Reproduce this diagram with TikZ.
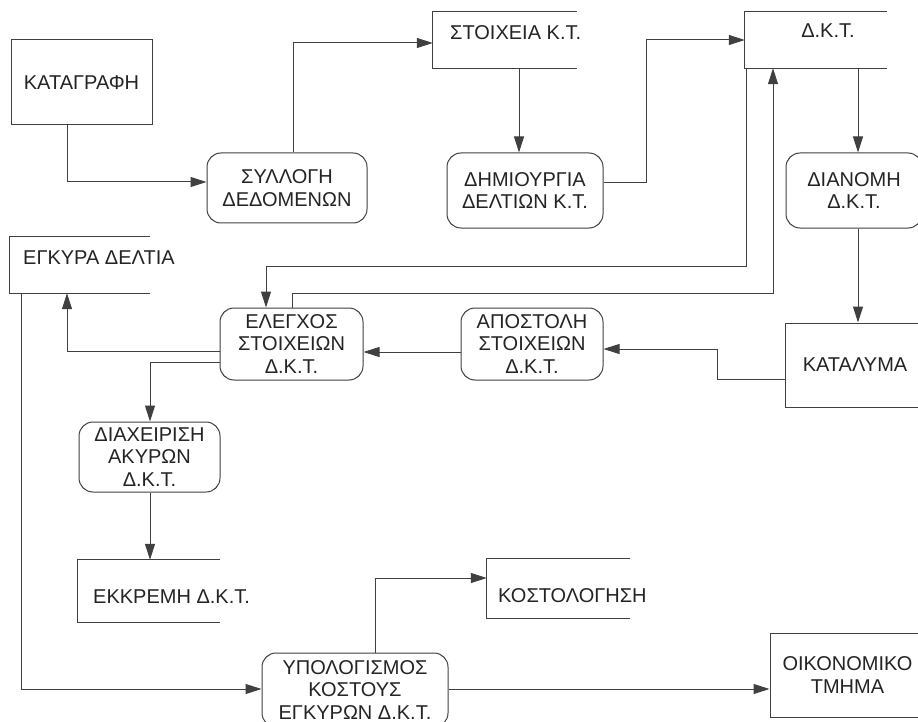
\documentclass[tikz,border=0pt]{standalone}
\usepackage{fontspec}
\setmainfont{Liberation Sans}
\usetikzlibrary{arrows.meta}
\definecolor{ink}{HTML}{404040}
\definecolor{txt}{HTML}{242424}
\begin{document}
\begin{tikzpicture}[x=1pt,y=-1pt,
  every node/.style={font=\fontsize{20}{22.5}\selectfont, text=txt, inner sep=0pt, align=center},
  entity/.style={draw=ink, line width=1pt},
  process/.style={draw=ink, line width=1pt, rounded corners=14pt},
  store/.style={},
  storeline/.style={draw=ink, line width=1pt},
  flow/.style={draw=ink, line width=1pt, -{Triangle[length=16pt,width=10pt]}},
]
\clip (0,0) rectangle (918,722);
\fill[white] (0,0) rectangle (918,722);

% external entities
\node[entity, minimum width=141pt, minimum height=85pt] (katagrafi) at (81.5,82.5) {ΚΑΤΑΓΡΑΦΗ};
\node[entity, minimum width=140pt, minimum height=84pt] (katalyma) at (855,365) {ΚΑΤΑΛΥΜΑ};
\node[entity, minimum width=155pt, minimum height=84pt] (oikonomiko) at (847.5,675) {ΟΙΚΟΝΟΜΙΚΟ\\ΤΜΗΜΑ};

% processes
\node[process, minimum width=160pt, minimum height=70pt] (syllogi) at (287,188) {ΣΥΛΛΟΓΗ\\ΔΕΔΟΜΕΝΩΝ};
\node[process, minimum width=156pt, minimum height=75pt] (dimiourgia) at (525,190.5) {ΔΗΜΙΟΥΡΓΙΑ\\ΔΕΛΤΙΩΝ Κ.Τ.};
\node[process, minimum width=136pt, minimum height=75pt] (dianomi) at (854,190.5) {ΔΙΑΝΟΜΗ\\Δ.Κ.Τ.};
\node[process, minimum width=143pt, minimum height=72pt] (elegxos) at (291.5,344) {ΕΛΕΓΧΟΣ\\ΣΤΟΙΧΕΙΩΝ\\Δ.Κ.Τ.};
\node[process, minimum width=142pt, minimum height=72pt] (apostoli) at (532,344) {ΑΠΟΣΤΟΛΗ\\ΣΤΟΙΧΕΙΩΝ\\Δ.Κ.Τ.};
\node[process, minimum width=141pt, minimum height=70pt] (diaxeirisi) at (149.5,457) {ΔΙΑΧΕΙΡΙΣΗ\\ΑΚΥΡΩΝ\\Δ.Κ.Τ.};
\node[process, minimum width=186pt, minimum height=74pt] (ypologismos) at (355,690) {ΥΠΟΛΟΓΙΣΜΟΣ\\ΚΟΣΤΟΥΣ\\ΕΓΚΥΡΩΝ Δ.Κ.Τ.};

% data stores (open on the right)
\node[store, minimum width=144pt, minimum height=56pt] (stk) at (505,40) {};
\node[store, minimum width=142pt, minimum height=56pt] (dkt) at (816,40) {};
\node[store, minimum width=140pt, minimum height=56pt] (egkyra) at (80,265) {};
\node[store, minimum width=142pt, minimum height=62pt] (ekkremi) at (149,591) {};
\node[store, minimum width=143pt, minimum height=59pt] (kostologisi) at (558.5,588.5) {};
\foreach \s in {stk,dkt,egkyra,ekkremi,kostologisi}
  \draw[storeline] (\s.north east) -- (\s.north west) -- (\s.south west) -- (\s.south east);

\node[anchor=west] (stkt) at (450,33) {ΣΤΟΙΧΕΙΑ Κ.Τ.};
\node (dktt) at (828,31) {Δ.Κ.Τ.};
\node[anchor=west] (egkyrat) at (23,258) {ΕΓΚΥΡΑ ΔΕΛΤΙΑ};
\node[anchor=west] (ekkremit) at (93,597) {ΕΚΚΡΕΜΗ Δ.Κ.Τ.};
\node[anchor=west] (kostologisit) at (498,596) {ΚΟΣΤΟΛΟΓΗΣΗ};

% bend points of the flows
\coordinate (b1) at (67,182);
\coordinate (b2) at (293,43);
\coordinate (b3) at (519,100);
\coordinate (b4a) at (646,183);
\coordinate (b4b) at (646,40);
\coordinate (b5) at (858,100);
\coordinate (b7a) at (746,266);
\coordinate (b7b) at (266,266);
\coordinate (b8a) at (292,293);
\coordinate (b8b) at (773,293);
\coordinate (b9a) at (717,379);
\coordinate (b9b) at (717,349);
\coordinate (b10) at (400,352);
\coordinate (b11) at (67,351);
\coordinate (b12) at (150,362);
\coordinate (b14) at (21,689);
\coordinate (b15) at (375,578);

% data flows
\draw[flow] (katagrafi.south -| b1) -- (b1) -- (syllogi.west |- b1);
\draw[flow] (syllogi.north -| b2) -- (b2) -- (stk.west |- b2);
\draw[flow] (stk.south -| b3) -- (dimiourgia.north -| b3);
\draw[flow] (dimiourgia.east |- b4a) -- (b4a) -- (b4b) -- (dkt.west |- b4b);
\draw[flow] (dkt.south -| b5) -- (dianomi.north -| b5);
\draw[flow] (dianomi.south -| b5) -- (katalyma.north -| b5);
\draw[flow] (dkt.south -| b7a) -- (b7a) -- (b7b) -- (elegxos.north -| b7b);
\draw[flow] (elegxos.north -| b8a) -- (b8a) -- (b8b) -- (dkt.south -| b8b);
\draw[flow] (katalyma.west |- b9a) -- (b9a) -- (b9b) -- (apostoli.east |- b9b);
\draw[flow] (apostoli.west |- b10) -- (elegxos.east |- b10);
\draw[flow] (elegxos.west |- b11) -- (b11) -- (egkyra.south -| b11);
\draw[flow] (elegxos.west |- b12) -- (b12) -- (diaxeirisi.north -| b12);
\draw[flow] (diaxeirisi.south -| b12) -- (ekkremi.north -| b12);
\draw[flow] (egkyra.south -| b14) -- (b14) -- (ypologismos.west |- b14);
\draw[flow] (ypologismos.north -| b15) -- (b15) -- (kostologisi.west |- b15);
\draw[flow] (ypologismos.east |- b14) -- (oikonomiko.west |- b14);
\end{tikzpicture}
\end{document}
